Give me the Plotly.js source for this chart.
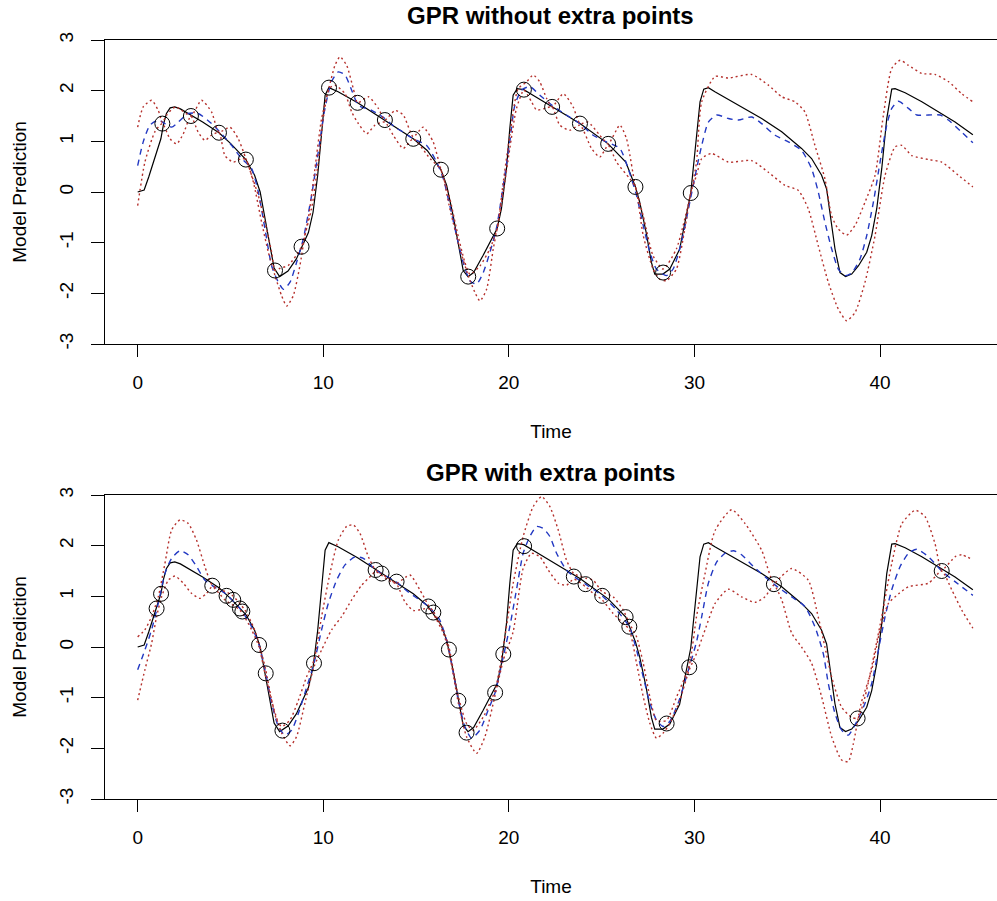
<!DOCTYPE html>
<html>
<head>
<meta charset="utf-8">
<script src="https://cdn.plot.ly/plotly-3.0.1.min.js"></script>
<style>html,body{margin:0;padding:0;background:#fff;}#chart{width:997px;height:901px;}</style>
</head>
<body>
<div id="chart"></div>
<script>
// ---------- data ----------
const xTickVals = [0, 10, 20, 30, 40];
const xTickText = ["0", "10", "20", "30", "40"];
const yTickVals = [-3, -2, -1, 0, 1, 2, 3];
const yTickText = ["-3", "-2", "-1", "0", "1", "2", "3"];
const titleTop = "GPR without extra points";
const titleBottom = "GPR with extra points";

// true function (black solid, same in both panels)
const trueX = [0, 0.35, 0.6, 0.85, 1.0, 1.25, 1.4, 1.55, 1.75, 2.0, 2.3, 2.87, 3.5, 4.38, 5.0, 5.83, 6.3, 6.6, 6.9, 7.15, 7.35, 7.65, 8.1, 8.55, 8.83, 9.2, 9.45, 9.7, 9.9, 10.1, 10.3, 10.8, 11.85, 13.32, 14.85, 15.6, 16.34, 16.65, 17.0, 17.36, 17.54, 17.8, 18.1, 18.6, 19.37, 19.6, 19.87, 20.05, 20.23, 20.45, 20.8, 21.3, 22.33, 23.83, 25.35, 26.3, 26.82, 27.05, 27.4, 27.68, 27.86, 28.3, 28.67, 29.2, 29.8, 30.1, 30.3, 30.5, 30.75, 31.1, 31.83, 32.72, 33.62, 34.7, 35.77, 36.31, 36.85, 37.12, 37.3, 37.57, 37.84, 38.14, 38.47, 38.83, 39.28, 39.55, 39.82, 40.09, 40.36, 40.63, 40.81, 41.35, 42.25, 43.32, 44.04, 45.0];
const trueY = [0, 0.04, 0.3, 0.6, 0.76, 1.05, 1.35, 1.55, 1.66, 1.68, 1.64, 1.52, 1.38, 1.17, 0.96, 0.64, 0.33, 0.0, -0.6, -1.15, -1.5, -1.67, -1.56, -1.32, -1.08, -0.8, -0.4, 0.33, 1.12, 1.91, 2.06, 1.98, 1.76, 1.42, 1.05, 0.82, 0.44, 0.13, -0.47, -1.19, -1.55, -1.67, -1.59, -1.26, -0.72, -0.33, 0.46, 1.25, 1.91, 2.04, 2.02, 1.91, 1.68, 1.35, 0.95, 0.59, 0.10, -0.2, -0.8, -1.39, -1.62, -1.62, -1.52, -1.13, -0.02, 1.12, 1.78, 2.03, 2.06, 1.98, 1.83, 1.65, 1.45, 1.19, 0.86, 0.66, 0.33, 0.06, -0.4, -1.12, -1.59, -1.67, -1.62, -1.46, -1.19, -0.86, -0.33, 0.46, 1.45, 2.03, 2.04, 1.96, 1.78, 1.55, 1.38, 1.13];

// ---- top panel: GPR without extra points ----
const topTrainX = [1.33, 2.87, 4.38, 5.83, 7.40, 8.83, 10.31, 11.85, 13.32, 14.85, 16.34, 17.81, 19.37, 20.81, 22.33, 23.83, 25.35, 26.82, 28.31, 29.80];
const topTrainY = [1.35, 1.50, 1.17, 0.64, -1.55, -1.08, 2.06, 1.76, 1.42, 1.05, 0.44, -1.67, -0.72, 2.02, 1.68, 1.35, 0.95, 0.10, -1.59, -0.02];

const topMeanX = [0, 0.3, 0.66, 1.11, 1.47, 1.83, 2.19, 2.72, 3.26, 3.98, 4.52, 5.06, 5.6, 6.14, 6.5, 6.86, 7.22, 7.58, 7.85, 8.21, 8.56, 8.92, 9.37, 9.73, 10.09, 10.45, 10.81, 11.17, 11.53, 11.89, 12.61, 13.32, 13.86, 14.31, 14.85, 15.57, 16.11, 16.47, 16.82, 17.18, 17.54, 17.9, 18.26, 18.62, 18.98, 19.34, 19.7, 20.05, 20.32, 20.68, 21.13, 21.67, 22.33, 23.1, 23.83, 24.54, 25.26, 25.98, 26.43, 26.88, 27.24, 27.6, 27.95, 28.49, 28.85, 29.3, 29.75, 30.11, 30.39, 30.75, 31.2, 31.83, 32.37, 33.08, 33.62, 34.34, 35.06, 35.77, 36.31, 36.67, 37.03, 37.39, 37.75, 38.11, 38.47, 38.92, 39.28, 39.64, 40.0, 40.36, 40.63, 40.99, 41.53, 41.98, 42.61, 43.24, 43.68, 44.4, 45.0];
const topMeanY = [0.52, 0.99, 1.32, 1.42, 1.35, 1.28, 1.38, 1.55, 1.55, 1.35, 1.15, 0.92, 0.66, 0.46, 0.0, -0.73, -1.46, -1.78, -1.92, -1.78, -1.39, -0.93, -0.07, 0.79, 1.65, 2.18, 2.37, 2.31, 2.01, 1.71, 1.61, 1.45, 1.28, 1.18, 1.05, 0.92, 0.59, 0.26, -0.27, -0.86, -1.39, -1.75, -1.82, -1.59, -1.19, -0.70, 0.13, 0.99, 1.71, 2.01, 2.08, 1.91, 1.71, 1.52, 1.35, 1.12, 0.99, 0.86, 0.46, -0.07, -0.66, -1.19, -1.52, -1.65, -1.52, -0.99, -0.20, 0.45, 0.92, 1.38, 1.52, 1.45, 1.42, 1.48, 1.35, 1.12, 0.99, 0.82, 0.46, 0.0, -0.60, -1.12, -1.52, -1.65, -1.60, -1.32, -0.86, -0.20, 0.59, 1.32, 1.65, 1.79, 1.65, 1.52, 1.52, 1.52, 1.42, 1.18, 0.97];

const topUpperX = [0, 0.3, 0.75, 1.11, 1.33, 1.56, 2.05, 2.87, 3.44, 3.98, 4.38, 4.97, 5.42, 5.83, 6.14, 6.5, 6.86, 7.22, 7.4, 7.7, 8.11, 8.83, 9.19, 9.55, 9.91, 10.31, 10.63, 10.9, 11.26, 11.62, 11.85, 12.43, 12.97, 13.32, 13.86, 14.31, 14.85, 15.38, 15.92, 16.34, 16.82, 17.18, 17.63, 17.9, 18.44, 18.98, 19.37, 19.7, 20.05, 20.5, 20.95, 21.31, 21.67, 22.03, 22.33, 22.93, 23.46, 23.83, 24.27, 24.9, 25.35, 25.98, 26.34, 26.82, 27.24, 27.77, 28.31, 29.03, 29.8, 30.11, 30.39, 31.11, 31.83, 33.08, 33.98, 34.7, 35.42, 35.95, 36.49, 37.03, 37.39, 37.75, 38.2, 38.65, 39.19, 39.73, 40.18, 40.63, 41.08, 41.53, 42.25, 42.96, 43.68, 44.4, 45.0];
const topUpperY = [1.28, 1.68, 1.81, 1.61, 1.37, 1.52, 1.68, 1.50, 1.81, 1.58, 1.18, 1.28, 1.05, 0.66, 0.33, -0.07, -0.60, -1.19, -1.55, -1.50, -1.45, -1.08, -0.53, 0.46, 1.45, 2.06, 2.50, 2.67, 2.50, 2.04, 1.76, 1.88, 1.65, 1.42, 1.61, 1.52, 1.09, 1.28, 0.99, 0.44, -0.13, -0.73, -1.39, -1.62, -1.46, -1.12, -0.72, 0.20, 1.12, 2.04, 2.17, 2.31, 2.17, 1.85, 1.68, 1.94, 1.68, 1.35, 1.38, 1.12, 0.95, 1.32, 1.05, 0.10, -0.47, -1.26, -1.52, -1.12, -0.02, 0.59, 1.78, 2.28, 2.25, 2.32, 2.11, 1.88, 1.78, 1.58, 0.92, 0.26, -0.47, -0.73, -0.85, -0.66, -0.20, 0.33, 1.52, 2.44, 2.60, 2.50, 2.34, 2.32, 2.18, 1.94, 1.78];

const topLowerX = [0, 0.39, 0.93, 1.33, 1.74, 2.1, 2.46, 2.87, 3.26, 3.62, 3.98, 4.38, 4.7, 5.15, 5.6, 5.83, 6.23, 6.68, 7.04, 7.4, 7.76, 8.03, 8.38, 8.74, 9.01, 9.37, 9.73, 10.0, 10.31, 10.63, 11.17, 11.53, 11.89, 12.34, 12.79, 13.32, 13.77, 14.31, 14.85, 15.75, 16.34, 16.82, 17.36, 17.81, 18.17, 18.44, 18.8, 19.16, 19.37, 19.7, 20.05, 20.41, 20.81, 21.22, 21.49, 21.94, 22.33, 22.74, 23.28, 23.83, 24.45, 24.9, 25.35, 25.8, 26.52, 26.82, 27.24, 27.77, 28.13, 28.49, 29.03, 29.48, 29.8, 30.11, 30.39, 30.93, 31.83, 33.08, 33.98, 34.88, 35.6, 36.13, 36.67, 37.21, 37.75, 38.2, 38.65, 39.19, 39.73, 40.27, 40.81, 41.17, 41.71, 42.61, 43.32, 44.22, 45.0];
const topLowerY = [-0.27, 0.59, 1.19, 1.35, 1.05, 0.95, 1.15, 1.50, 1.18, 1.02, 1.12, 1.18, 0.72, 0.59, 0.66, 0.64, 0.20, -0.60, -1.19, -1.65, -2.05, -2.25, -2.05, -1.46, -0.86, -0.33, 0.59, 1.45, 2.04, 2.11, 1.94, 1.58, 1.35, 1.15, 1.32, 1.38, 1.12, 0.86, 1.05, 0.66, 0.44, -0.33, -1.12, -1.65, -1.98, -2.15, -1.92, -1.12, -0.72, 0.0, 0.86, 1.65, 2.01, 1.78, 1.62, 1.65, 1.68, 1.32, 1.22, 1.32, 0.86, 0.69, 0.92, 0.59, 0.26, 0.10, -0.86, -1.52, -1.72, -1.75, -1.52, -0.73, -0.02, 0.33, 0.66, 0.76, 0.59, 0.62, 0.39, 0.13, 0.03, -0.33, -1.06, -1.78, -2.31, -2.54, -2.38, -1.78, -0.86, 0.33, 0.89, 0.92, 0.72, 0.64, 0.59, 0.33, 0.10];

// ---- bottom panel: GPR with extra points ----
const botTrainX = [1.02, 1.26, 4.02, 4.79, 5.15, 5.51, 5.64, 6.54, 6.90, 7.80, 9.50, 12.82, 13.14, 13.95, 15.66, 15.93, 16.77, 17.28, 17.72, 19.26, 19.70, 20.82, 23.50, 24.13, 25.03, 26.29, 26.49, 28.50, 29.72, 34.28, 38.79, 43.32];
const botTrainY = [0.76, 1.05, 1.21, 1.01, 0.93, 0.76, 0.70, 0.04, -0.52, -1.65, -0.32, 1.52, 1.45, 1.29, 0.80, 0.68, -0.05, -1.06, -1.69, -0.90, -0.14, 1.99, 1.39, 1.24, 1.01, 0.59, 0.40, -1.51, -0.40, 1.24, -1.41, 1.50];

const botMeanX = [0, 0.39, 0.75, 1.11, 1.47, 1.83, 2.28, 2.72, 3.17, 3.62, 4.02, 4.7, 5.51, 6.14, 6.54, 6.9, 7.22, 7.58, 7.94, 8.3, 8.66, 9.01, 9.5, 9.91, 10.27, 10.72, 11.17, 11.71, 12.16, 12.82, 13.95, 14.6, 15.66, 16.28, 16.77, 17.28, 17.63, 17.99, 18.44, 18.89, 19.26, 19.7, 20.05, 20.41, 20.77, 21.13, 21.49, 21.85, 22.21, 22.57, 23.1, 23.5, 24.13, 25.03, 25.8, 26.49, 26.88, 27.24, 27.6, 27.95, 28.31, 28.67, 29.12, 29.72, 30.11, 30.39, 30.75, 31.2, 31.65, 32.1, 32.54, 33.17, 34.28, 35.24, 35.95, 36.49, 36.94, 37.21, 37.57, 37.93, 38.29, 38.79, 39.19, 39.55, 39.91, 40.27, 40.63, 41.08, 41.53, 41.98, 42.61, 43.32, 44.04, 45.0];
const botMeanY = [-0.45, -0.06, 0.34, 0.86, 1.45, 1.75, 1.90, 1.82, 1.59, 1.32, 1.21, 1.06, 0.76, 0.40, 0.04, -0.52, -1.11, -1.57, -1.74, -1.64, -1.31, -0.91, -0.32, 0.34, 0.86, 1.32, 1.62, 1.78, 1.75, 1.52, 1.28, 1.08, 0.80, 0.53, -0.05, -1.06, -1.57, -1.80, -1.64, -1.24, -0.90, -0.19, 0.40, 1.13, 1.85, 2.18, 2.38, 2.34, 2.18, 1.85, 1.52, 1.39, 1.24, 1.01, 0.73, 0.40, -0.06, -0.59, -1.11, -1.44, -1.57, -1.47, -1.11, -0.40, 0.10, 0.60, 1.26, 1.68, 1.85, 1.90, 1.82, 1.59, 1.24, 0.99, 0.80, 0.40, -0.13, -0.72, -1.31, -1.64, -1.74, -1.44, -1.11, -0.72, -0.06, 0.60, 1.13, 1.59, 1.85, 1.93, 1.78, 1.50, 1.29, 1.02];

const botUpperX = [0, 0.39, 0.75, 1.11, 1.47, 1.83, 2.28, 2.72, 3.17, 3.62, 4.02, 5.06, 5.78, 6.23, 6.54, 6.9, 7.22, 7.49, 7.76, 8.21, 8.66, 9.1, 9.5, 9.91, 10.36, 10.81, 11.26, 11.62, 11.98, 12.43, 12.82, 13.5, 13.95, 14.67, 15.2, 15.66, 15.93, 16.47, 16.77, 17.28, 17.72, 18.08, 18.62, 19.26, 19.7, 20.23, 20.77, 21.31, 21.76, 22.21, 22.66, 23.1, 23.5, 24.13, 24.54, 25.03, 25.62, 26.16, 26.49, 26.88, 27.24, 27.6, 27.95, 28.49, 29.03, 29.72, 30.11, 30.57, 31.11, 32.0, 32.72, 33.62, 34.28, 34.7, 35.24, 36.13, 36.67, 37.03, 37.39, 37.93, 38.47, 38.79, 39.19, 39.73, 40.09, 40.63, 41.17, 41.89, 42.43, 42.96, 43.32, 44.04, 44.4, 45.0];
const botUpperY = [0.20, 0.34, 0.60, 0.99, 1.65, 2.31, 2.51, 2.44, 2.11, 1.59, 1.22, 1.03, 0.73, 0.40, 0.07, -0.45, -1.05, -1.44, -1.57, -1.44, -1.05, -0.59, -0.26, 0.60, 1.45, 2.11, 2.38, 2.41, 2.24, 1.78, 1.52, 1.36, 1.26, 1.42, 1.13, 0.83, 0.70, 0.34, 0.0, -0.98, -1.51, -1.64, -1.38, -0.85, 0.0, 1.25, 2.18, 2.77, 2.97, 2.77, 2.31, 1.72, 1.45, 1.36, 1.32, 1.09, 0.99, 0.73, 0.47, 0.20, -0.32, -0.99, -1.45, -1.45, -0.99, -0.36, 0.60, 1.45, 2.30, 2.71, 2.44, 1.91, 1.26, 1.40, 1.55, 1.32, 0.59, 0.0, -0.59, -1.19, -1.39, -1.41, -0.98, -0.06, 0.60, 1.65, 2.43, 2.70, 2.57, 2.04, 1.52, 1.78, 1.82, 1.72];

const botLowerX = [0, 0.39, 0.75, 1.02, 1.29, 1.65, 2.01, 2.46, 2.9, 3.35, 3.71, 4.02, 4.7, 5.51, 6.14, 6.54, 6.9, 7.31, 7.76, 8.21, 8.56, 9.01, 9.5, 9.91, 10.45, 10.99, 11.53, 12.07, 12.61, 12.82, 13.5, 13.95, 14.4, 14.85, 15.66, 15.93, 16.47, 16.77, 17.28, 17.72, 18.26, 18.71, 19.26, 19.7, 20.23, 20.77, 21.22, 21.67, 22.12, 22.66, 23.1, 23.5, 24.13, 24.54, 25.03, 25.62, 26.16, 26.49, 26.88, 27.24, 27.6, 27.95, 28.31, 28.67, 29.21, 29.72, 30.11, 30.57, 31.11, 31.83, 32.54, 33.26, 33.8, 34.28, 34.7, 35.24, 35.77, 36.31, 36.85, 37.39, 37.93, 38.29, 38.56, 38.98, 39.55, 40.0, 40.45, 41.0, 41.53, 42.61, 43.32, 43.86, 44.4, 45.0];
const botLowerY = [-1.05, -0.45, 0.07, 0.60, 0.99, 1.32, 1.40, 1.26, 1.06, 0.96, 1.06, 1.19, 0.93, 0.73, 0.34, 0.0, -0.59, -1.18, -1.70, -1.95, -1.77, -1.11, -0.39, -0.06, 0.34, 0.60, 0.93, 1.22, 1.42, 1.49, 1.32, 1.24, 0.89, 0.72, 0.76, 0.65, 0.27, -0.09, -1.11, -1.77, -2.10, -1.77, -0.95, -0.26, 0.30, 1.55, 1.85, 1.78, 1.52, 1.26, 1.22, 1.34, 1.19, 1.06, 0.93, 0.66, 0.47, 0.34, -0.32, -0.98, -1.51, -1.80, -1.70, -1.51, -1.05, -0.45, -0.13, 0.34, 0.86, 1.14, 0.99, 0.88, 0.99, 1.22, 0.93, 0.27, 0.0, -0.32, -0.98, -1.77, -2.23, -2.26, -1.91, -1.11, -0.45, 0.34, 0.86, 1.05, 1.19, 1.26, 1.50, 1.13, 0.73, 0.37];

// ---------- styles ----------
const FONT = "Liberation Sans, Arial, Helvetica, sans-serif";
const RED = "#b5302c";
const BLUE = "#2238c2";

function panel(xa, ya, trainX, trainY, meanX, meanY, upX, upY, loX, loY) {
  return [
    {x: trueX, y: trueY, xaxis: xa, yaxis: ya, type: "scatter", mode: "lines",
     line: {color: "#000", width: 1.2}, hoverinfo: "skip"},
    {x: meanX, y: meanY, xaxis: xa, yaxis: ya, type: "scatter", mode: "lines",
     line: {color: BLUE, width: 1.4, dash: "6px,5px", shape: "spline", smoothing: 0.6}},
    {x: upX, y: upY, xaxis: xa, yaxis: ya, type: "scatter", mode: "lines",
     line: {color: RED, width: 1.4, dash: "2px,3px", shape: "spline", smoothing: 0.6}},
    {x: loX, y: loY, xaxis: xa, yaxis: ya, type: "scatter", mode: "lines",
     line: {color: RED, width: 1.4, dash: "2px,3px", shape: "spline", smoothing: 0.6}},
    {x: trainX, y: trainY, xaxis: xa, yaxis: ya, type: "scatter", mode: "markers",
     marker: {symbol: "circle-open", size: 15, color: "#000", line: {color: "#000", width: 1}}}
  ];
}

const data = [].concat(
  panel("x", "y", topTrainX, topTrainY, topMeanX, topMeanY, topUpperX, topUpperY, topLowerX, topLowerY),
  panel("x2", "y2", botTrainX, botTrainY, botMeanX, botMeanY, botUpperX, botUpperY, botLowerX, botLowerY)
);

const W = 997, H = 901;
const xDomain = [105 / W, 1];
function xAxis(anchor) {
  return {
    anchor: anchor, domain: xDomain, range: [-1.76, 46.3],
    tickmode: "array", tickvals: xTickVals, ticktext: xTickText,
    ticks: "outside", ticklen: 12, tickwidth: 1, tickcolor: "#000",
    showline: true, linecolor: "#000", linewidth: 1, mirror: true,
    showgrid: false, zeroline: false,
    tickfont: {family: FONT, size: 19, color: "#000"},
    ticklabelstandoff: 9,
    title: {text: "Time", font: {family: FONT, size: 19, color: "#000"}, standoff: 32}
  };
}
function yAxis(anchor, dom) {
  return {
    anchor: anchor, domain: dom, range: [-3, 3],
    tickmode: "array", tickvals: yTickVals, ticktext: yTickText, tickangle: -90,
    ticks: "outside", ticklen: 13, tickwidth: 1, tickcolor: "#000",
    showline: true, linecolor: "#000", linewidth: 1, mirror: false,
    showgrid: false, zeroline: false,
    tickfont: {family: FONT, size: 19, color: "#000"},
    ticklabelstandoff: 10,
    title: {text: "Model Prediction", font: {family: FONT, size: 19, color: "#000"}, standoff: 24}
  };
}

const layout = {
  width: W, height: H,
  margin: {l: 0, r: 0, t: 0, b: 0},
  paper_bgcolor: "#fff", plot_bgcolor: "#fff",
  showlegend: false,
  font: {family: FONT, color: "#000"},
  xaxis: xAxis("y"),
  yaxis: yAxis("x", [1 - 344 / H, 1 - 40 / H]),
  xaxis2: xAxis("y2"),
  yaxis2: yAxis("x2", [1 - 799 / H, 1 - 495 / H]),
  annotations: [
    {text: "<b>" + titleTop + "</b>", xref: "paper", yref: "paper",
     x: (105 + 995) / 2 / W, y: 1 - 16 / H, xanchor: "center", yanchor: "middle",
     showarrow: false, font: {family: FONT, size: 24, color: "#000"}},
    {text: "<b>" + titleBottom + "</b>", xref: "paper", yref: "paper",
     x: (105 + 995) / 2 / W, y: 1 - 473 / H, xanchor: "center", yanchor: "middle",
     showarrow: false, font: {family: FONT, size: 24, color: "#000"}}
  ]
};

Plotly.newPlot("chart", data, layout, {staticPlot: true, displayModeBar: false});
</script>
</body>
</html>
